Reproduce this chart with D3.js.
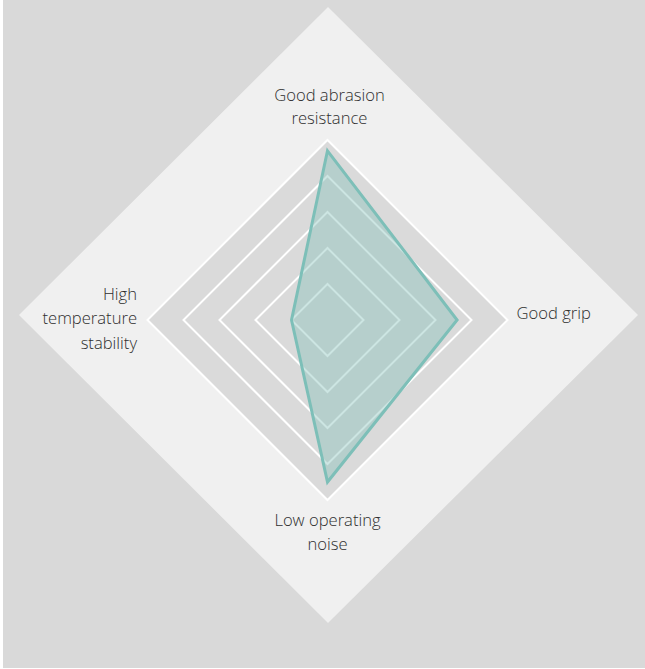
<!DOCTYPE html>
<html>
<head>
<meta charset="utf-8">
<script src="https://cdn.jsdelivr.net/npm/d3@7"></script>
<style>
  html, body { margin: 0; padding: 0; background: #ffffff; }
  svg { display: block; }
  text { font-family: "Open Sans", "Noto Sans", sans-serif; font-weight: 300; fill: #2e2e2e; font-size: 16.6px; }
</style>
</head>
<body>
<svg id="chart" width="645" height="669"></svg>
<script>
// ---- data ----
const categories = [
  ["Good abrasion", "resistance"],
  ["Good grip"],
  ["Low operating", "noise"],
  ["High", "temperature", "stability"]
];
const values = [4.7, 3.6, 4.5, 1.0];
const levels = [1, 2, 3, 4, 5];
const maxValue = 5;

// ---- layout ----
const W = 645, H = 669;
const cx = 327.5, cy = 320;
const R = 180;
const svg = d3.select("#chart");

// background
svg.append("rect").attr("x", 3).attr("y", 0).attr("width", W - 3).attr("height", H - 1).attr("fill", "#d9d9d9");

// outer light diamond
const outer = [[328, 7], [638, 315], [328, 623], [19, 315]];
svg.append("polygon").attr("points", outer.map(p => p.join(",")).join(" ")).attr("fill", "#f0f0f0");

const r = d3.scaleLinear().domain([0, maxValue]).range([0, R]);
const n = categories.length;
const angle = i => -Math.PI / 2 + i * 2 * Math.PI / n;
const pt = (i, v) => [cx + r(v) * Math.cos(angle(i)), cy + r(v) * Math.sin(angle(i))];

// inner gray area
svg.append("polygon")
  .attr("points", d3.range(n).map(i => pt(i, maxValue).join(",")).join(" "))
  .attr("fill", "#dadada");

// grid rings
svg.append("g").selectAll("polygon").data(levels).join("polygon")
  .attr("points", l => d3.range(n).map(i => pt(i, l).join(",")).join(" "))
  .attr("fill", "none")
  .attr("stroke", "#ffffff")
  .attr("stroke-width", 2);

// data polygon
svg.append("polygon")
  .attr("points", values.map((v, i) => pt(i, v).join(",")).join(" "))
  .attr("fill", "#7fbdb6")
  .attr("fill-opacity", 0.4)
  .attr("stroke", "#7dbfb8")
  .attr("stroke-width", 3)
  .attr("stroke-linejoin", "miter");

// labels
const labelPos = [
  { x: cx + 2, y: 100.5, anchor: "middle", lh: 23.5 },
  { x: 516.5, y: 319, anchor: "start", lh: 24 },
  { x: cx, y: 525.5, anchor: "middle", lh: 24.5 },
  { x: 137, y: 299.5, anchor: "end", lh: 24.8 }
];
categories.forEach((lines, i) => {
  const p = labelPos[i];
  const t = svg.append("text").attr("text-anchor", p.anchor);
  lines.forEach((s, k) => {
    t.append("tspan").attr("x", p.x).attr("y", p.y + k * p.lh).text(s);
  });
});
</script>
</body>
</html>
